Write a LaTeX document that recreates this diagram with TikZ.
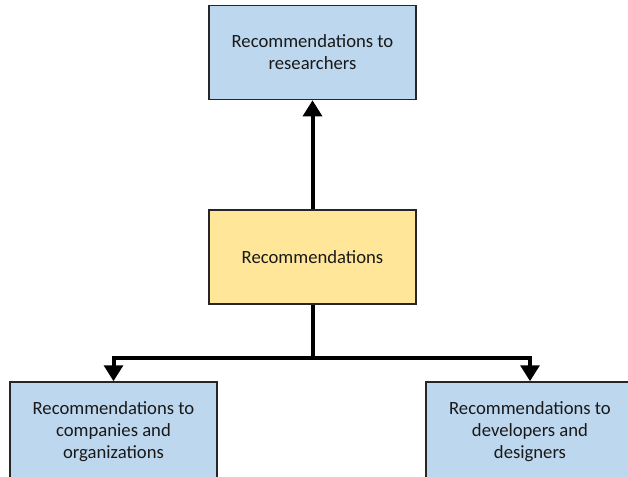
\documentclass[tikz,border=0pt]{standalone}
\usepackage{fontspec}
\setmainfont{Carlito}
\usetikzlibrary{arrows.meta, positioning}

\definecolor{recblue}{HTML}{BDD7EE}
\definecolor{recyellow}{HTML}{FFE699}

\begin{document}
\begin{tikzpicture}[x=0.75pt, y=-0.75pt,
            font=\fontsize{14}{16.5}\selectfont,
            rec box/.style={draw=black!85, line width=1.1pt, minimum width=155pt,
                minimum height=70.5pt, align=center, text=black!90, inner sep=2pt},
            link/.style={line width=3pt, -{Triangle[width=14pt, length=12pt]}}]

            % Canvas
            \clip (0,0) rectangle (628,477);

            % Central node
            \node[rec box, fill=recyellow] (rec) at (312.5,257) {Recommendations};

            % Target groups
            \node[rec box, fill=recblue, above=81.75pt of rec] (res)
                {Recommendations to\\researchers};
            \node[rec box, fill=recblue, minimum height=75pt] (comp) at (113.5,432)
                {Recommendations to\\companies and\\organizations};
            \node[rec box, fill=recblue, minimum height=75pt, minimum width=156pt] (dev) at (530,432)
                {Recommendations to\\developers and\\designers};

            % Connectors
            \coordinate (split) at (rec.south |- 0,358);
            \draw[link] (rec.north) -- (res.south);
            \draw[line width=3pt] (rec.south) -- (split);
            \draw[link] (split) -| (comp.north);
            \draw[link] (split) -| (dev.north);
        \end{tikzpicture}
\end{document}
